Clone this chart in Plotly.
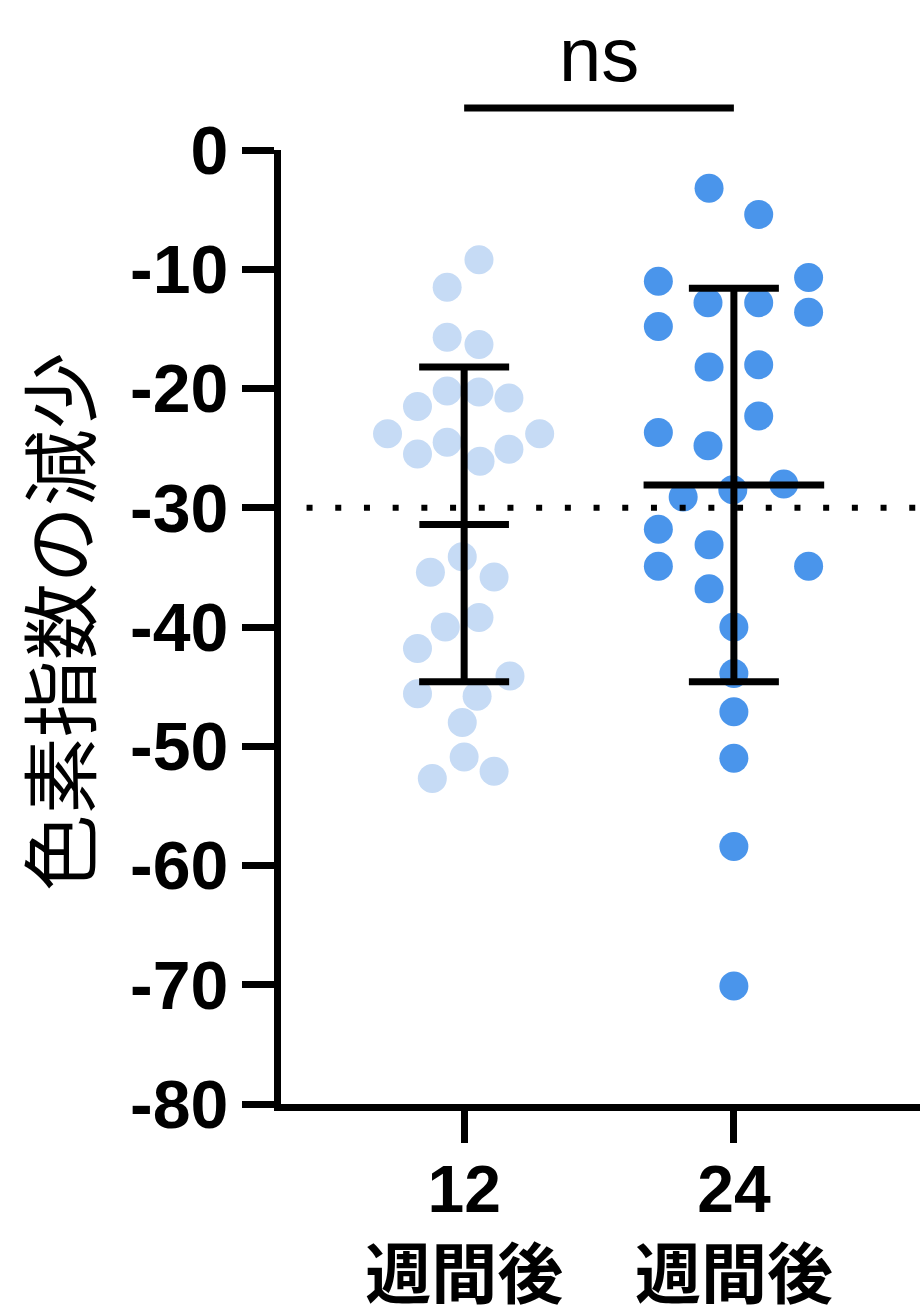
import plotly.graph_objects as go

# ---- data ----
groups = ["12<br>週間後", "24<br>週間後"]
y_ticks = [0, -10, -20, -30, -40, -50, -60, -70, -80]
y_tick_text = ["0", "-10", "-20", "-30", "-40", "-50", "-60", "-70", "-80"]

vals_12 = [-9.2, -11.5, -15.7, -16.3, -21.5, -20.2, -20.3, -20.8, -23.8, -23.8,
           -25.5, -24.5, -25.1, -26.1, -34.1, -35.4, -35.8, -40.0, -39.2, -41.8,
           -44.1, -45.6, -45.8, -48.0, -50.9, -52.7, -52.1]
jitter_12 = [0.055, -0.063, -0.063, 0.055, -0.173, -0.063, 0.055, 0.166, -0.284, 0.280,
             -0.173, -0.063, 0.166, 0.059, -0.007, -0.125, 0.111, -0.070, 0.055, -0.173,
             0.170, -0.173, 0.048, -0.007, 0.0, -0.118, 0.111]

vals_24 = [-3.2, -5.4, -11.0, -10.7, -13.6, -12.8, -12.8, -14.8, -18.2, -18.0,
           -22.3, -23.7, -24.8, -28.0, -28.5, -29.1, -31.8, -33.1, -34.9, -34.9,
           -36.8, -40.0, -43.9, -47.1, -51.0, -58.4, -70.1]
jitter_24 = [-0.092, 0.092, -0.280, 0.277, 0.277, -0.096, 0.092, -0.280, -0.092, 0.092,
             0.092, -0.280, -0.096, 0.185, -0.004, -0.188, -0.280, -0.092, -0.280, 0.277,
             -0.092, 0.0, 0.0, 0.0, 0.0, 0.0, 0.0]

means = [-31.4, -28.1]
sds = [13.2, 16.5]
threshold = -30
sig_label = "ns"

# ---- styles ----
colors = ["#C6DBF5", "#4A95EB"]
mean_line_len = [64, 129]   # marker size for the mean bar (line-ew)

fig = go.Figure()

for i, (vals, jit) in enumerate([(vals_12, jitter_12), (vals_24, jitter_24)]):
    fig.add_trace(go.Scatter(
        x=[i + j for j in jit], y=vals, mode="markers",
        marker=dict(size=29, color=colors[i], line=dict(width=0)),
        cliponaxis=False, showlegend=False, hoverinfo="y"))

for i in range(2):
    fig.add_trace(go.Scatter(
        x=[i], y=[means[i]], mode="markers",
        marker=dict(symbol="line-ew", size=mean_line_len[i],
                    line=dict(width=7, color="black")),
        error_y=dict(type="data", array=[sds[i]], visible=True,
                     color="black", thickness=7, width=45),
        cliponaxis=False, showlegend=False, hoverinfo="y"))

# dotted reference line
fig.add_shape(type="line", xref="paper", yref="y", x0=0.04, x1=1,
              y0=threshold, y1=threshold,
              line=dict(color="black", width=6, dash="6px,22.7px"))

# significance bar
fig.add_shape(type="line", xref="x", yref="paper", x0=0, x1=1, y0=1.044, y1=1.044,
              line=dict(color="black", width=7))
fig.add_annotation(x=0.5, xref="x", y=1.10, yref="paper", text=sig_label,
                   showarrow=False, yanchor="middle",
                   font=dict(family="Liberation Sans, Arial", size=76, color="black"))

# y-axis title as rotated annotation
fig.add_annotation(x=-0.352, xref="paper", y=0.505, yref="paper", text="色素指数の減少",
                   textangle=-90, showarrow=False, xanchor="center", yanchor="middle",
                   font=dict(family="Noto Sans CJK JP", size=77, color="black"))

fig.update_layout(
    width=920, height=1312,
    margin=dict(l=281, r=0, t=150, b=208, autoexpand=False),
    plot_bgcolor="white", paper_bgcolor="white",
    xaxis=dict(range=[-0.679, 1.69], tickmode="array", tickvals=[0, 1], ticktext=groups,
               automargin=False, ticklabelstandoff=-10,
               showline=True, linecolor="black", linewidth=7, ticks="outside",
               ticklen=32, tickwidth=7, tickcolor="black", showgrid=False, zeroline=False,
               tickfont=dict(family="Liberation Sans, Noto Sans CJK JP", size=66,
                             color="black", weight="bold")),
    yaxis=dict(range=[-80, 0], tickmode="array", tickvals=y_ticks, ticktext=y_tick_text,
               automargin=False,
               showline=True, linecolor="black", linewidth=7, ticks="outside",
               ticklen=32, tickwidth=7, tickcolor="black", showgrid=False, zeroline=False,
               tickfont=dict(family="Liberation Sans, Arial", size=68,
                             color="black", weight="bold")),
)

fig.write_html("out.html")
